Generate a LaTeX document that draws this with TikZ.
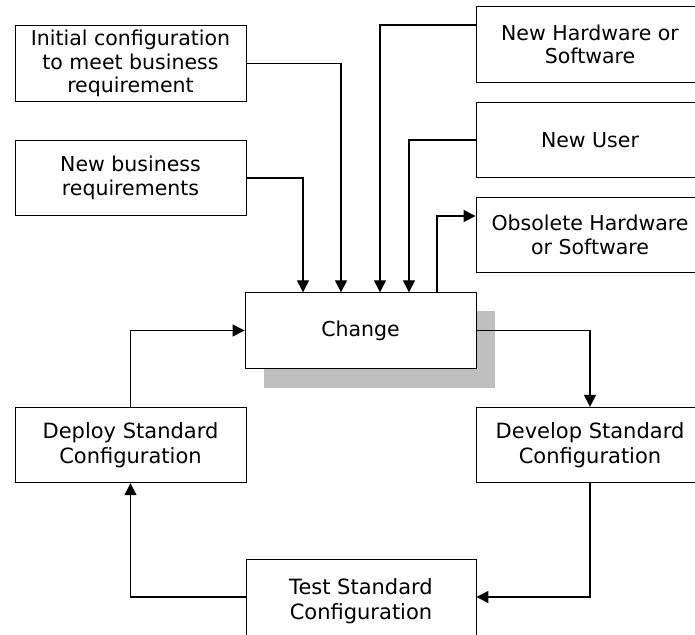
\documentclass[tikz,border=0pt]{standalone}
\usepackage{fontspec}
\setmainfont{DejaVu Sans}
\usetikzlibrary{arrows.meta}
\begin{document}
\begin{tikzpicture}[x=1pt,y=-1pt,
  box/.style={draw=black, line width=0.9pt, fill=white, minimum width=231pt, minimum height=75.5pt, inner sep=0pt, align=center, font=\fontsize{20.5}{23.5}\selectfont},
  rbox/.style={box, minimum width=228pt},
  lbox/.style={box, font=\fontsize{21}{25.3}\selectfont},
  arr/.style={line width=1.3pt, -{Triangle[length=12pt,width=12pt]}}]
\useasboundingbox (0,0) rectangle (695,634);
% shadow of the Change box
\fill[black!25] (264,311) rectangle (495,388);
\node[box] (init) at (130.5,63.5) {Initial configuration\\to meet business\\requirement};
\node[box] (newbiz) at (130.5,178) {New business\\requirements};
\node[rbox] (newhw) at (590,44.5) {New Hardware or\\Software};
\node[rbox] (newuser) at (590,140) {New User};
\node[rbox] (obsolete) at (590,235) {Obsolete Hardware\\or Software};
\node[box] (change) at (360.5,330.5) {Change};
\node[lbox] (deploy) at (130.5,445) {Deploy Standard\\Configuration};
\node[lbox, minimum width=228pt] (develop) at (590,445) {Develop Standard\\Configuration};
\node[lbox, minimum width=230pt, minimum height=84pt] (test) at (361,601) {\raisebox{5.5pt}{\parbox{200pt}{\centering Test Standard\\Configuration}}};
% inputs to Change
\draw[arr] (init.east) -| (change.north -| 341,0);
\draw[arr] (newbiz.east) -| (change.north -| 303,0);
\draw[arr] (newhw.west |- 0,25) -| (change.north -| 380,0);
\draw[arr] (newuser.west) -| (change.north -| 409,0);
\draw[arr] (change.north -| 437,0) |- (obsolete.west |- 0,216);
% cycle
\draw[arr] (change.east) -| (develop.north);
\draw[arr] (develop.south) |- (test.east |- 0,597);
\draw[arr] (test.west |- 0,597) -| (deploy.south);
\draw[arr] (deploy.north) |- (change.west);
\end{tikzpicture}
\end{document}
